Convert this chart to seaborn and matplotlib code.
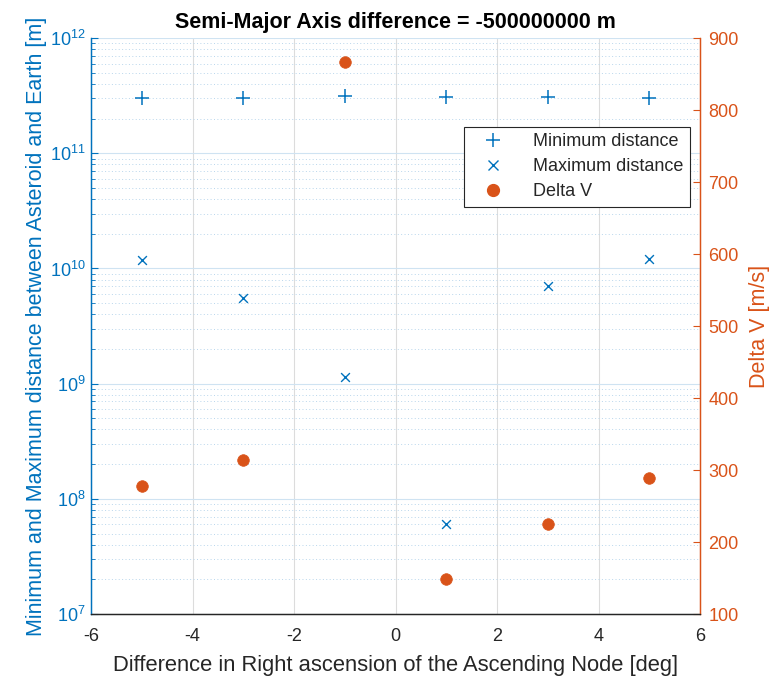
import numpy as np
import pandas as pd
import matplotlib
matplotlib.use("Agg")
import matplotlib.pyplot as plt
import seaborn as sns
from matplotlib.lines import Line2D
from matplotlib.ticker import LogLocator, MultipleLocator, NullFormatter

raan_diff = [-5, -3, -1, 1, 3, 5]
min_distance = [3.02e11, 3.02e11, 3.16e11, 3.06e11, 3.05e11, 3.0e11]
max_distance = [1.18e10, 5.5e9, 1.14e9, 6.0e7, 7.0e9, 1.2e10]
delta_v = [278, 314, 867, 148, 225, 289]

blue = "#0072BD"
orange = "#D95319"
dark = "#262626"

sns.set_theme(style="white")
plt.rcParams["font.family"] = ["Liberation Sans", "DejaVu Sans"]
plt.rcParams["mathtext.fontset"] = "custom"
plt.rcParams["mathtext.rm"] = "Liberation Sans"
plt.rcParams["mathtext.it"] = "Liberation Sans"
plt.rcParams["mathtext.default"] = "regular"
plt.rcParams["axes.unicode_minus"] = False

df = pd.DataFrame({"x": raan_diff, "mn": min_distance, "mx": max_distance, "dv": delta_v})

fig = plt.figure(figsize=(7.72, 6.8), dpi=100)
ax = fig.add_axes([0.118, 0.097, 0.789, 0.847])
ax2 = ax.twinx()

sns.scatterplot(data=df, x="x", y="mn", ax=ax, marker="+", s=90, color=blue, linewidth=1.1, zorder=3)
sns.scatterplot(data=df, x="x", y="mx", ax=ax, marker="x", s=40, color=blue, linewidth=1.0, zorder=3)
sns.scatterplot(data=df, x="x", y="dv", ax=ax2, marker="o", s=70, color=orange, edgecolor=orange, linewidth=0.5, zorder=3)

ax.set_yscale("log")
ax.set_ylim(1e7, 1e12)
ax.set_xlim(-6, 6)
ax.xaxis.set_major_locator(MultipleLocator(2))
ax.yaxis.set_major_locator(LogLocator(base=10, numticks=10))
ax.yaxis.set_minor_locator(LogLocator(base=10, subs=np.arange(2, 10), numticks=20))
ax.yaxis.set_minor_formatter(NullFormatter())
ax2.set_ylim(100, 900)
ax2.yaxis.set_major_locator(MultipleLocator(100))

# grids
ax.grid(True, axis="x", which="major", color="#dcdcdc", linewidth=0.8, linestyle="-")
ax.grid(True, axis="y", which="major", color="#cfe3f2", linewidth=0.8, linestyle="-")
ax.grid(True, axis="y", which="minor", color="#b9d6ec", linewidth=0.7, linestyle=(0, (1, 2.5)))
ax.set_axisbelow(True)

for a in (ax, ax2):
    a.spines["top"].set_visible(False)
    a.spines["bottom"].set_color(dark)
    a.spines["left"].set_color(blue)
    a.spines["right"].set_color(orange)
    for s in a.spines.values():
        s.set_linewidth(0.9)

ax.tick_params(axis="x", direction="in", colors=dark, labelsize=13, length=5, top=False, width=0.8, pad=10)
ax.tick_params(axis="y", which="major", direction="in", colors=blue, labelsize=13, length=5, width=0.8, pad=4)
ax.tick_params(axis="y", which="minor", direction="in", colors=blue, length=3, width=0.6)
ax2.tick_params(axis="y", direction="in", colors=orange, labelsize=13, length=5, width=0.8, pad=6)

ax.set_xlabel("Difference in Right ascension of the Ascending Node [deg]", fontsize=15.8, color=dark, labelpad=7)
ax.set_ylabel("Minimum and Maximum distance between Asteroid and Earth [m]", fontsize=15.5, color=blue, labelpad=2)
ax2.set_ylabel("Delta V [m/s]", fontsize=15.5, color=orange, labelpad=7)
ax.set_title("Semi-Major Axis difference = -500000000 m", fontsize=15.5, fontweight="bold", color="black", pad=7)

handles = [
    Line2D([], [], linestyle="none", marker="+", color=blue, markersize=10, markeredgewidth=1.1),
    Line2D([], [], linestyle="none", marker="x", color=blue, markersize=6.5, markeredgewidth=1.0),
    Line2D([], [], linestyle="none", marker="o", color=orange, markersize=8.5),
]
labels = ["Minimum distance", "Maximum distance", "Delta V"]
leg = ax2.legend(handles, labels, loc="upper right", bbox_to_anchor=(0.983, 0.846), fontsize=13,
                 frameon=True, fancybox=False, edgecolor=dark, framealpha=1, borderpad=0.35,
                 handletextpad=0.9, labelspacing=0.45, handlelength=2.6, borderaxespad=0)
leg.get_frame().set_linewidth(0.8)

fig.savefig("out.png", dpi=100)
